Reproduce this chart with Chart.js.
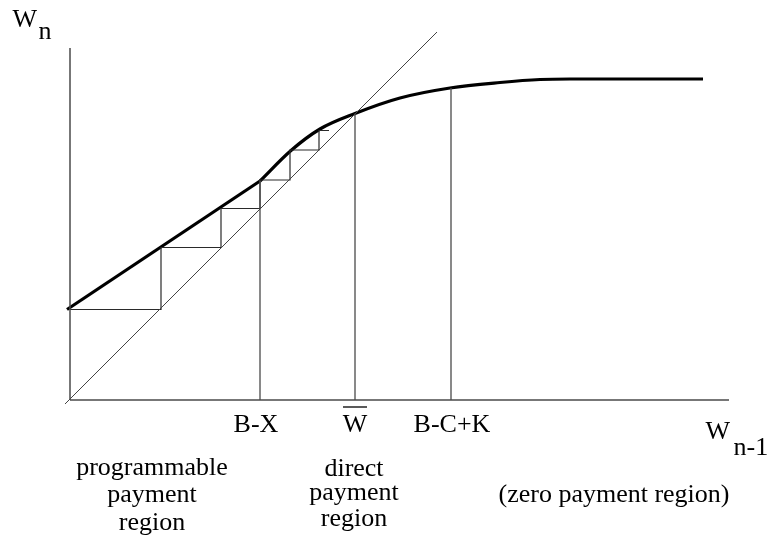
<!DOCTYPE html>
<html>
<head>
<meta charset="utf-8">
<script src="https://cdn.jsdelivr.net/npm/chart.js@4/dist/chart.umd.min.js"></script>
<style>
  html, body { margin: 0; padding: 0; background: #fff; }
  #wrap { width: 771px; height: 546px; }
</style>
</head>
<body>
<div id="wrap"><canvas id="c" width="771" height="546"></canvas></div>
<script>
// ---- data (units: W_{n-1} on x, W_n on y) ----
const linearPartX = [-3, 190];
const linearPartY = [90.5, 219];

const curvePartX = [190, 221, 250, 285, 330, 380, 430, 470, 500, 633];
const curvePartY = [219, 249.5, 271, 286.5, 302, 312, 317.5, 320.5, 321, 321];

const diagonalX = [-5, 367];
const diagonalY = [-4, 368];

const stairX = [0, 91, 91, 151, 151, 190, 190, 220, 220, 249, 249, 259];
const stairY = [90.5, 90.5, 152.5, 152.5, 191.5, 191.5, 220, 220, 250, 250, 269.5, 269.5];

const xAxisEnd = 659;
const yAxisEnd = 352;

const tickLabels = ['B-X', 'W', 'B-C+K'];
const tickValues = [190, 285, 381];
const tickTops = [219, 286.5, 312];

const regionLeft = ['programmable', 'payment', 'region'];
const regionMiddle = ['direct', 'payment', 'region'];
const regionRight = ['(zero payment region)'];

function pts(xs, ys) { return xs.map((x, i) => ({ x: x, y: ys[i] })); }

const thin = '#2a2a2a';
const axisCol = '#4a4a4a';

const datasets = [
  { data: [{x: 0, y: 0}, {x: xAxisEnd, y: 0}], borderColor: axisCol, borderWidth: 1.5 },
  { data: [{x: 0, y: 0}, {x: 0, y: yAxisEnd}], borderColor: axisCol, borderWidth: 1.5 },
  { data: pts(diagonalX, diagonalY), borderColor: '#444', borderWidth: 1 },
  ...tickValues.map((v, i) => ({ data: [{x: v, y: 0}, {x: v, y: tickTops[i]}], borderColor: axisCol, borderWidth: 1.3 })),
  { data: pts(stairX, stairY), borderColor: thin, borderWidth: 1.2 },
  { data: pts(linearPartX, linearPartY), borderColor: '#000', borderWidth: 3.2 },
  { data: pts(curvePartX, curvePartY), borderColor: '#000', borderWidth: 3.2, cubicInterpolationMode: 'monotone' }
].map(d => Object.assign({ showLine: true, pointRadius: 0, fill: false, clip: false }, d));

const textPlugin = {
  id: 'texts',
  afterDraw(chart) {
    const ctx = chart.ctx;
    const xs = chart.scales.x;
    const font = '26px "Liberation Serif", "Times New Roman", serif';
    ctx.save();
    ctx.fillStyle = '#000';
    ctx.font = font;
    ctx.textBaseline = 'alphabetic';

    // axis titles
    ctx.textAlign = 'left';
    ctx.fillText('W', 12.5, 27);
    ctx.fillText('n', 38.5, 39);
    ctx.fillText('W', 705.5, 439);
    ctx.fillText('n-1', 733.5, 455);

    // tick labels at the vertical lines
    ctx.textAlign = 'center';
    const offs = [-4, 0, 1];
    tickLabels.forEach((t, i) => {
      const px = xs.getPixelForValue(tickValues[i]) + offs[i];
      ctx.fillText(t, px, 432);
      if (t === 'W') {
        ctx.strokeStyle = '#000';
        ctx.lineWidth = 1.3;
        ctx.beginPath();
        ctx.moveTo(px - 12, 407);
        ctx.lineTo(px + 12, 407);
        ctx.stroke();
      }
    });

    // region labels
    const leftBase = [475, 502, 530];
    regionLeft.forEach((t, i) => ctx.fillText(t, 152, leftBase[i]));
    const midBase = [476, 500, 526];
    regionMiddle.forEach((t, i) => ctx.fillText(t, 354, midBase[i]));
    regionRight.forEach(t => ctx.fillText(t, 614, 502));
    ctx.restore();
  }
};

new Chart(document.getElementById('c'), {
  type: 'scatter',
  data: { datasets: datasets },
  options: {
    responsive: false,
    animation: false,
    layout: { padding: { left: 60, right: 31, top: 20, bottom: 136 } },
    plugins: { legend: { display: false }, tooltip: { enabled: false } },
    scales: {
      x: { type: 'linear', min: -10, max: 670, display: false },
      y: { type: 'linear', min: -10, max: 380, display: false }
    }
  },
  plugins: [textPlugin]
});
</script>
</body>
</html>
